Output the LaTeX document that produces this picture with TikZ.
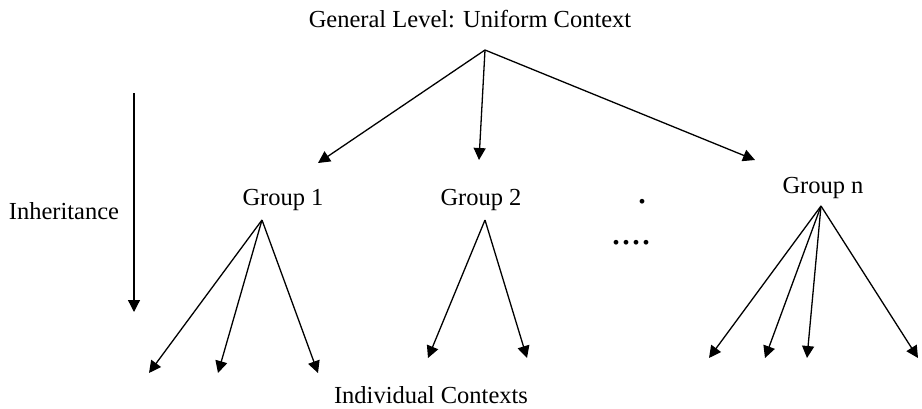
\documentclass[tikz,border=0pt]{standalone}
\usepackage{fontspec}
\setmainfont{Liberation Serif}
\usetikzlibrary{arrows.meta}
\tikzset{
  lbl/.style={anchor=base, inner sep=0pt, font=\fontsize{24.5}{29}\selectfont},
  dotlbl/.style={anchor=base, inner sep=0pt, font=\fontsize{40}{40}\selectfont},
  arr/.style={line width=1.3pt, -{Triangle[length=12pt,width=12pt]}}
}
\begin{document}
\begin{tikzpicture}[x=1pt,y=-1pt]
\useasboundingbox (0,0) rectangle (922,408);
% texts
\node[lbl] (top) at (470,27) {General Level: Uniform Context};
\node[lbl] (g1) at (283,205) {Group 1};
\node[lbl] (g2) at (481,205) {Group 2};
\node[lbl] (gn) at (823,193) {Group n};
\node[lbl] (inh) at (64,219) {Inheritance};
\node[lbl] (ind) at (431,403) {Individual Contexts};
\node[dotlbl] (d1) at (642,203) {.};
\node[dotlbl] (d2) at (631,244) {....};
% coordinates
\coordinate (a0) at (485,50);
\coordinate (t1) at (318,163);
\coordinate (t2) at (479,160);
\coordinate (tn) at (755,160);
\coordinate (a1) at (262,220);
\coordinate (a2) at (485,220);
\coordinate (an) at (821,206);
\coordinate (i1) at (149,373);
\coordinate (i2) at (218,373);
\coordinate (i3) at (318,373);
\coordinate (j1) at (428,358);
\coordinate (j2) at (527,358);
\coordinate (k1) at (709,358);
\coordinate (k2) at (765,358);
\coordinate (k3) at (807,358);
\coordinate (k4) at (918,358);
\coordinate (h0) at (134,93);
\coordinate (h1) at (134,312);
% arrows
\draw[arr] (a0) -- (t1);
\draw[arr] (a0) -- (t2);
\draw[arr] (a0) -- (tn);
\draw[arr] (a1) -- (i1);
\draw[arr] (a1) -- (i2);
\draw[arr] (a1) -- (i3);
\draw[arr] (a2) -- (j1);
\draw[arr] (a2) -- (j2);
\draw[arr] (an) -- (k1);
\draw[arr] (an) -- (k2);
\draw[arr] (an) -- (k3);
\draw[arr] (an) -- (k4);
\draw[arr] (h0) -- (h1);
\end{tikzpicture}
\end{document}
